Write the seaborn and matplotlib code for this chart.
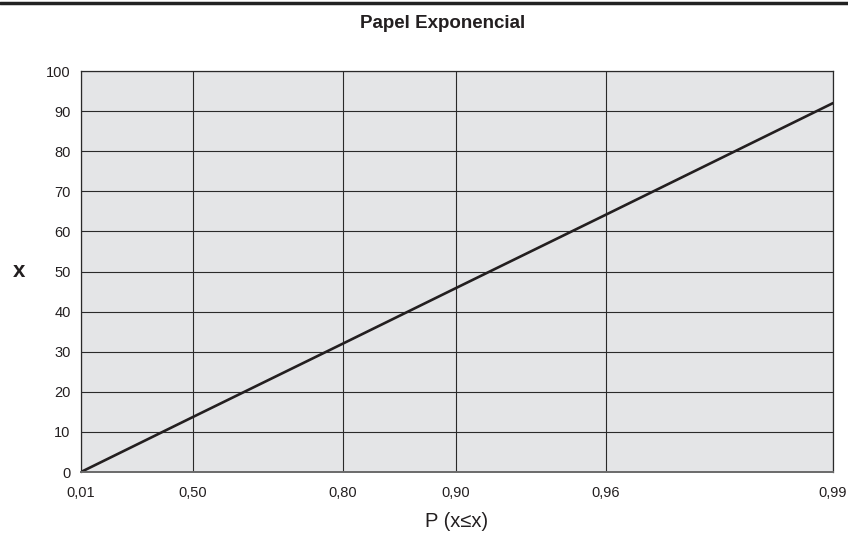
import numpy as np
import pandas as pd
import seaborn as sns
import matplotlib
matplotlib.use("Agg")
import matplotlib.pyplot as plt
from matplotlib.lines import Line2D

# probability levels on the exponential paper and the fitted line
p_ticks = [0.01, 0.50, 0.80, 0.90, 0.96, 0.99]
p_labels = ["0,01", "0,50", "0,80", "0,90", "0,96", "0,99"]
p_line = [0.01, 0.50, 0.80, 0.90, 0.96, 0.99]
x_line = [0.0, 13.7, 32.0, 45.9, 64.2, 92.0]
y_ticks = [0, 10, 20, 30, 40, 50, 60, 70, 80, 90, 100]


def expo_fwd(p):
    p = np.clip(np.asarray(p, dtype=float), 1e-9, 1 - 1e-9)
    return -np.log(1 - p)


def expo_inv(z):
    return 1 - np.exp(-np.asarray(z, dtype=float))


sns.set_theme(style="white")
plt.rcParams["font.family"] = ["Liberation Sans", "DejaVu Sans"]

fig = plt.figure(figsize=(8.48, 5.34), dpi=100)
ax = fig.add_axes([0.0955, 0.1161, 0.8868, 0.7509])
ax.set_facecolor("#e4e5e7")

df = pd.DataFrame({"p": p_line, "x": x_line})
sns.lineplot(data=df, x="p", y="x", ax=ax, color="#231f20", linewidth=1.9)

ax.set_xscale("function", functions=(expo_fwd, expo_inv))
ax.set_xlim(p_ticks[0], p_ticks[-1])
ax.set_ylim(0, 100)
ax.set_xticks(p_ticks)
ax.set_xticklabels(p_labels)
ax.set_yticks(y_ticks)
ax.minorticks_off()

ax.grid(True, color="#2a2a2a", linewidth=0.8)
ax.set_axisbelow(True)
ax.tick_params(axis="both", direction="out", length=4, width=0.8,
               color="#2a2a2a", labelsize=10.5, labelcolor="#231f20")
ax.tick_params(axis="x", pad=6)
for side in ["left", "top", "right"]:
    ax.spines[side].set_color("#2a2a2a")
    ax.spines[side].set_linewidth(0.9)
ax.spines["bottom"].set_color("#6a6a6a")
ax.spines["bottom"].set_linewidth(1.4)

ax.set_xlabel("P (x≤x)", fontsize=14.5, color="#231f20")
ax.xaxis.set_label_coords(0.5, -0.137)
ax.xaxis.label.set_va("baseline")
ax.set_ylabel("x", fontsize=16, fontweight="bold", color="#231f20",
              rotation=0, ha="center", va="center")
ax.yaxis.set_label_coords(-0.083, 0.5)

fig.text(0.522, 0.9476, "Papel Exponencial", ha="center", va="baseline",
         fontsize=13.5, fontweight="bold", color="#231f20")

# dark rule across the top of the page
fig.add_artist(Line2D([0, 1], [0.995, 0.995], transform=fig.transFigure,
                      color="#222222", linewidth=2.5))

fig.savefig("out.png", dpi=100)
